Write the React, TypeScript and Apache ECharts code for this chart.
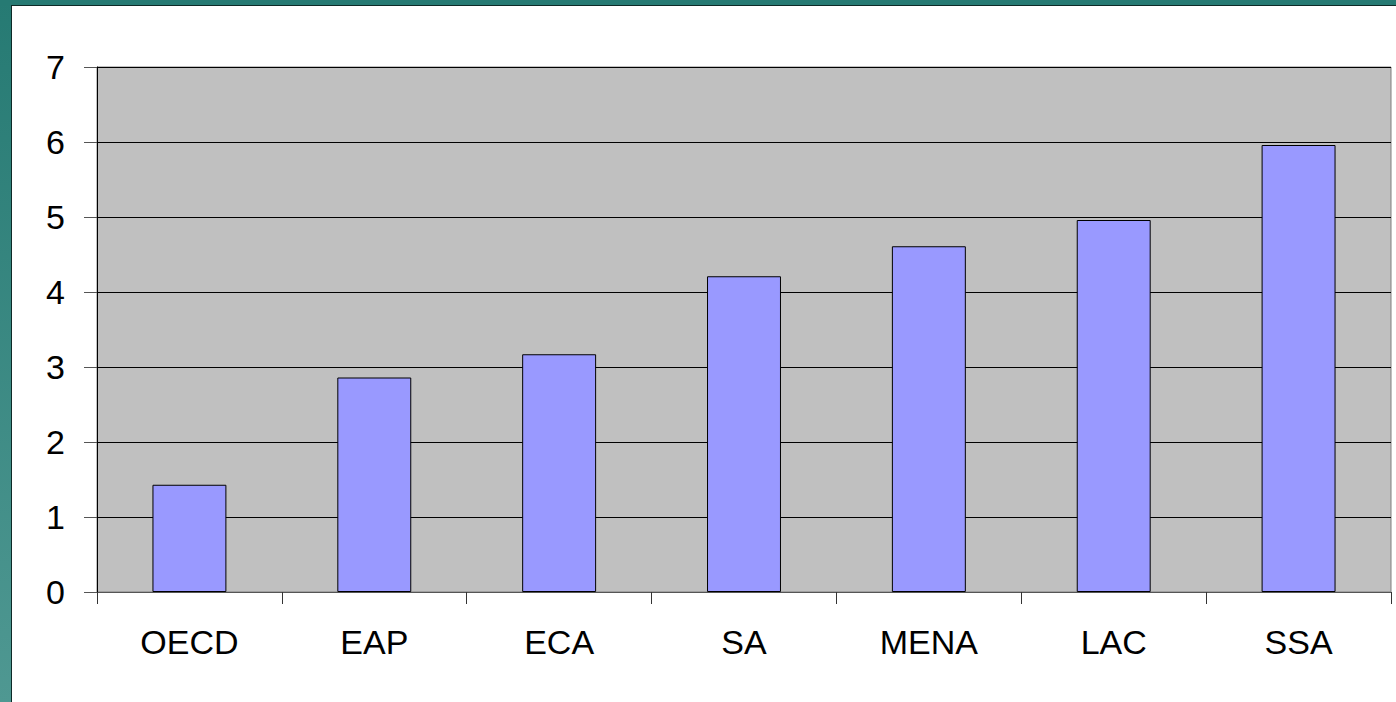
import React, { useEffect, useRef } from "react";
import * as echarts from "echarts";

const categories = ["OECD", "EAP", "ECA", "SA", "MENA", "LAC", "SSA"];
const values = [1.43, 2.86, 3.17, 4.21, 4.61, 4.96, 5.96];
const yMin = 0;
const yMax = 7;
const yInterval = 1;

export default function App() {
  const ref = useRef<HTMLDivElement>(null);
  useEffect(() => {
    if (!ref.current) return;
    const chart = echarts.init(ref.current, undefined, { renderer: "svg" });
    const font = "Arial, 'Liberation Sans', sans-serif";
    chart.setOption({
      animation: false,
      backgroundColor: "#ffffff",
      graphic: [
        {
          type: "rect",
          shape: { x: 0, y: 0, width: 11, height: 702 },
          style: {
            fill: new echarts.graphic.LinearGradient(0, 0, 0, 1, [
              { offset: 0, color: "#267a73" },
              { offset: 1, color: "#4f9892" },
            ]),
          },
          silent: true,
        },
        {
          type: "rect",
          shape: { x: 0, y: 0, width: 1396, height: 5 },
          style: { fill: "#267a73" },
          silent: true,
        },
        {
          type: "rect",
          shape: { x: 11, y: 5, width: 1, height: 697 },
          style: { fill: "#0d2a27" },
          silent: true,
        },
        {
          type: "rect",
          shape: { x: 11, y: 5, width: 1385, height: 1 },
          style: { fill: "#0d2a27" },
          silent: true,
        },
      ],
      grid: {
        left: 97,
        top: 67,
        right: 5,
        bottom: 110,
        show: true,
        backgroundColor: "#c0c0c0",
        borderColor: "#808080",
        borderWidth: 1,
      },
      xAxis: {
        type: "category",
        data: categories,
        axisLine: { show: true, lineStyle: { color: "#555555", width: 1 } },
        axisTick: {
          show: true,
          alignWithLabel: false,
          length: 12,
          lineStyle: { color: "#333333" },
        },
        axisLabel: {
          color: "#000000",
          fontSize: 34,
          fontFamily: font,
          margin: 33,
        },
        splitLine: { show: false },
      },
      yAxis: {
        type: "value",
        min: yMin,
        max: yMax,
        interval: yInterval,
        axisLine: { show: true, lineStyle: { color: "#000000", width: 1 } },
        axisTick: {
          show: true,
          length: 13,
          lineStyle: { color: "#555555" },
        },
        axisLabel: {
          color: "#000000",
          fontSize: 34,
          fontFamily: font,
          margin: 32,
        },
        splitLine: { show: true, lineStyle: { color: "#000000", width: 1 } },
      },
      series: [
        {
          type: "bar",
          data: values,
          barWidth: "40%",
          itemStyle: {
            color: "#9999ff",
            borderColor: "#000000",
            borderWidth: 1,
          },
        },
      ],
    });
    return () => chart.dispose();
  }, []);
  return (
    <div
      ref={ref}
      style={{ position: "fixed", left: 0, top: 0, width: 1396, height: 702 }}
    />
  );
}
